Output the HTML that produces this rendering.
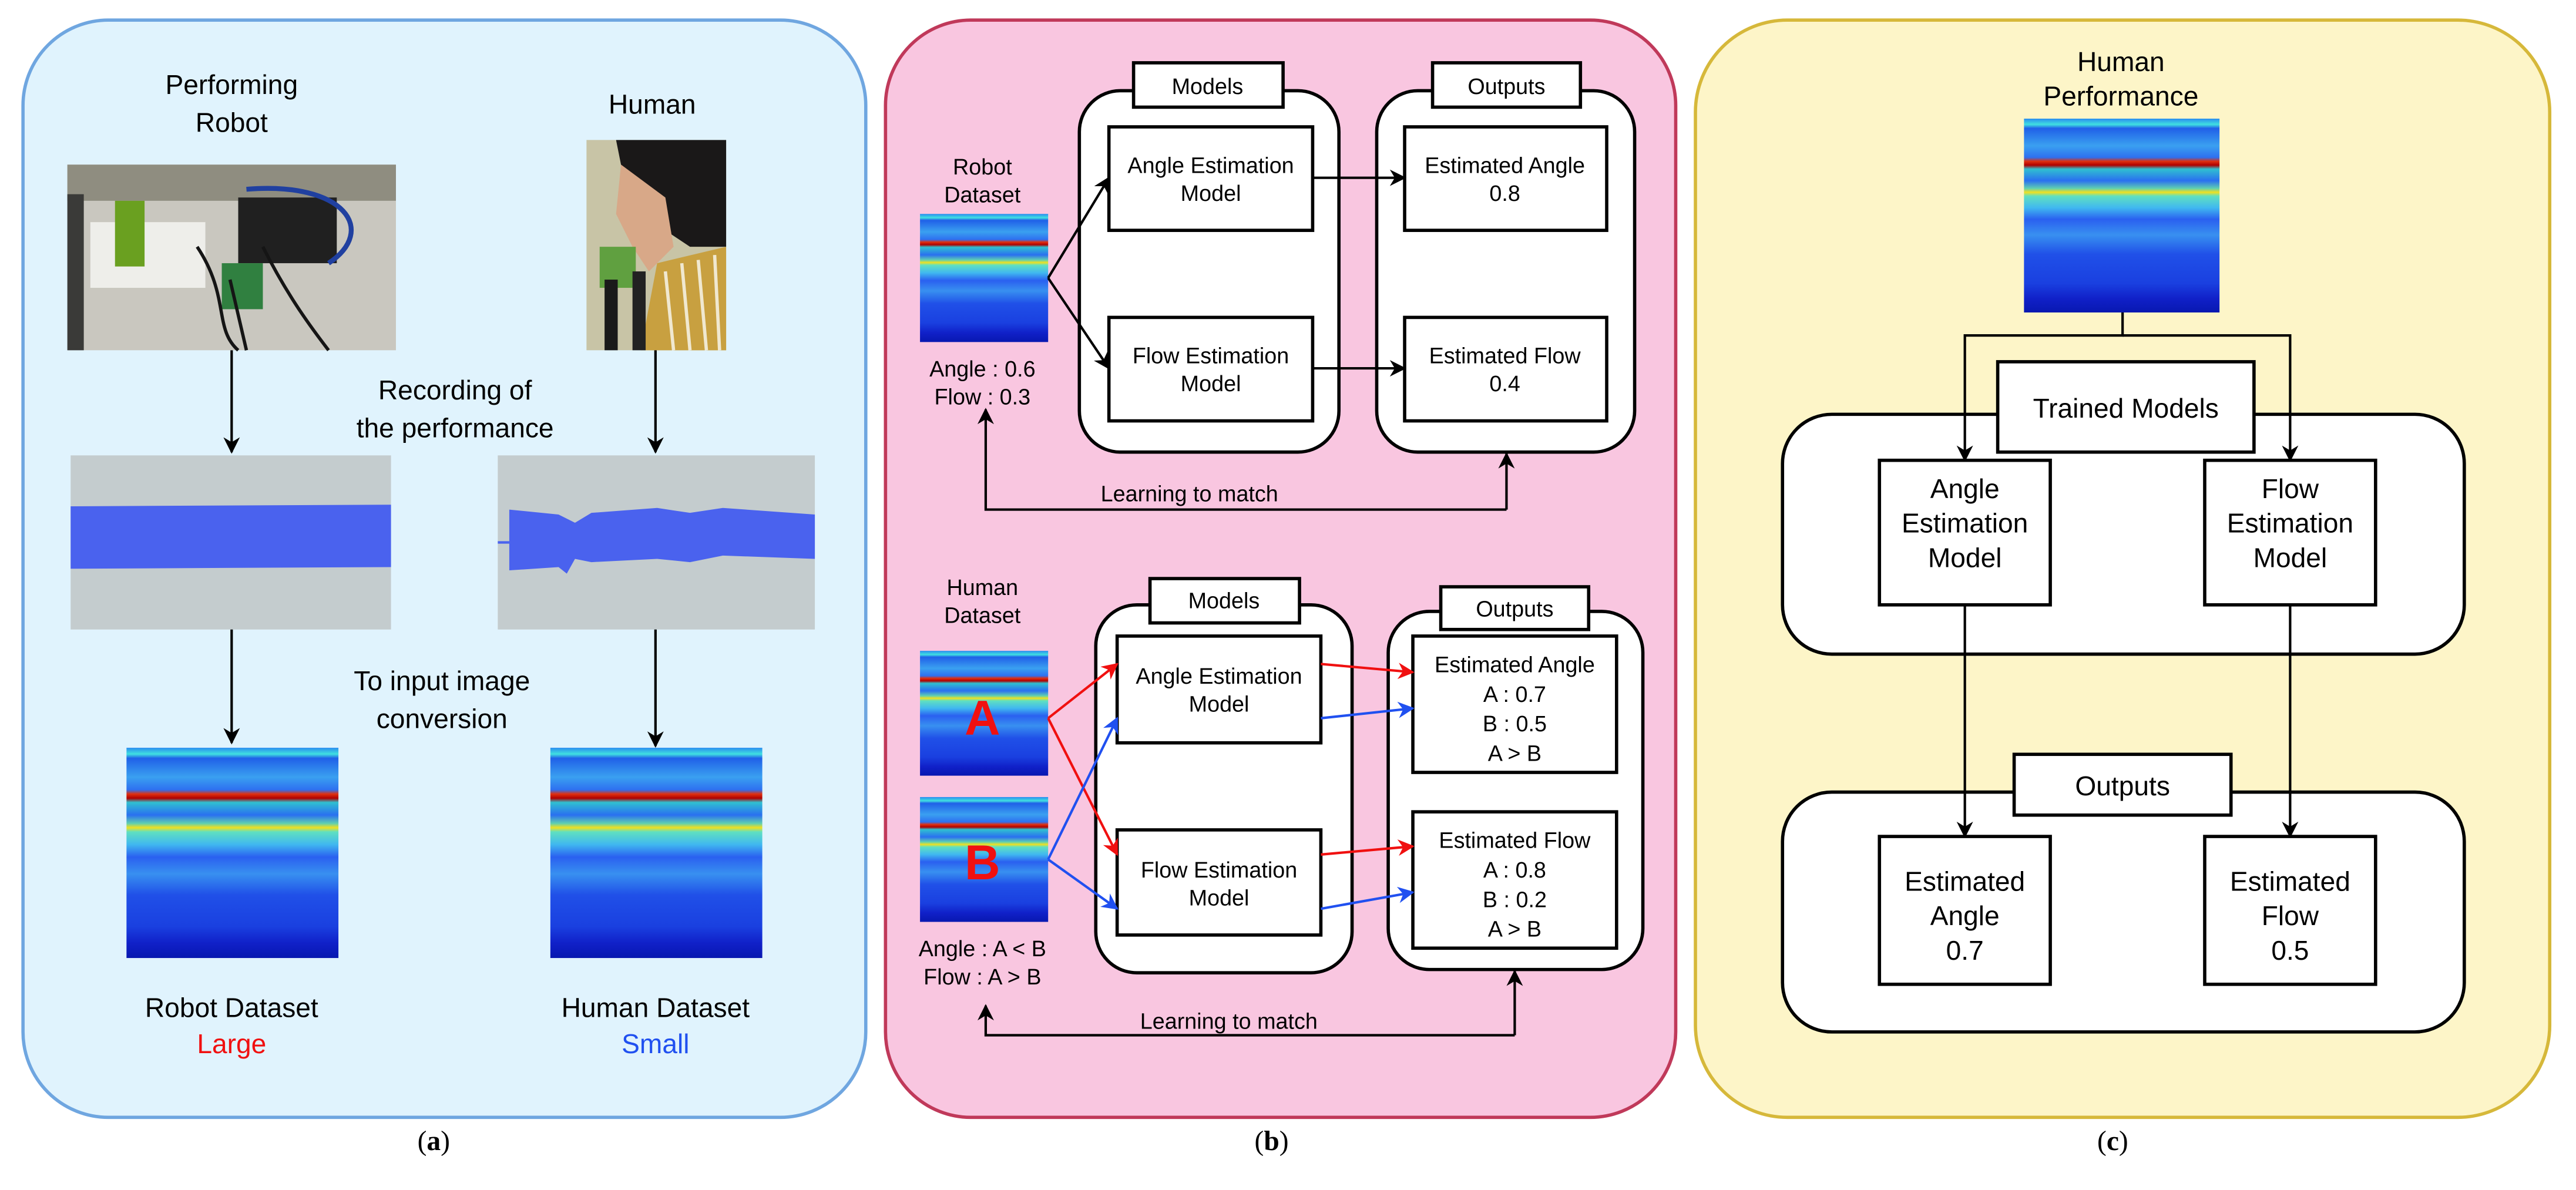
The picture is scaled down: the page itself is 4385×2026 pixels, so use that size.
<!DOCTYPE html>
<html><head><meta charset="utf-8"><style>
html,body{margin:0;padding:0;background:#fff}
svg{display:block}
text{font-family:"Liberation Sans",sans-serif;fill:#000}
.s{font-size:15px;text-anchor:middle}
.m{font-size:13.5px;text-anchor:middle}
.l{font-size:16.5px;text-anchor:middle}
.cap{font-family:"Liberation Serif",serif;font-size:17px;text-anchor:middle}
.bx{fill:#fff;stroke:#000;stroke-width:2}
.ln{fill:none;stroke:#000;stroke-width:1.5}
</style></head><body>
<svg width="4385" height="2026" viewBox="0 0 1568 724" xmlns="http://www.w3.org/2000/svg">
<defs>
<marker id="ak" markerWidth="10" markerHeight="10" refX="9" refY="5" orient="auto" markerUnits="userSpaceOnUse"><path d="M0,0 L10,5 L0,10 L3,5 Z" fill="#000"/></marker>
<marker id="ar" markerWidth="10" markerHeight="10" refX="9" refY="5" orient="auto" markerUnits="userSpaceOnUse"><path d="M0,0 L10,5 L0,10 L3,5 Z" fill="#f01010"/></marker>
<marker id="ab" markerWidth="10" markerHeight="10" refX="9" refY="5" orient="auto" markerUnits="userSpaceOnUse"><path d="M0,0 L10,5 L0,10 L3,5 Z" fill="#2050f0"/></marker>
<linearGradient id="sp" x1="0" y1="0" x2="0" y2="1">
<stop offset="0" stop-color="#2a8cf0"/><stop offset="0.03" stop-color="#40e0e0"/><stop offset="0.05" stop-color="#2060e8"/>
<stop offset="0.14" stop-color="#3aa0f0"/><stop offset="0.2" stop-color="#2e70f0"/>
<stop offset="0.22" stop-color="#e03010"/><stop offset="0.24" stop-color="#b00000"/><stop offset="0.26" stop-color="#30c0d0"/>
<stop offset="0.32" stop-color="#2a70f0"/><stop offset="0.36" stop-color="#60d0b0"/><stop offset="0.38" stop-color="#f0e020"/><stop offset="0.4" stop-color="#60e0c0"/>
<stop offset="0.46" stop-color="#40b8f0"/><stop offset="0.52" stop-color="#2a60f0"/><stop offset="0.6" stop-color="#3890f0"/>
<stop offset="0.7" stop-color="#2050e8"/><stop offset="0.85" stop-color="#1a40e0"/><stop offset="0.93" stop-color="#1020c8"/><stop offset="1" stop-color="#0818b0"/>
</linearGradient>
</defs>

<!-- panel a -->
<rect x="14" y="12" width="513" height="668" rx="52" fill="#e0f3fd" stroke="#6fa6e0" stroke-width="2"/>
<text class="l" x="141" y="57">Performing</text>
<text class="l" x="141" y="80">Robot</text>
<text class="l" x="397" y="69">Human</text>
<!-- robot photo -->
<rect x="41" y="100" width="200" height="113" fill="#c9c7bf"/>
<rect x="41" y="100" width="200" height="22" fill="#8f8d80"/>
<rect x="41" y="118" width="10" height="95" fill="#3a3a38"/>
<rect x="55" y="135" width="70" height="40" fill="#eeeeea"/>
<rect x="70" y="122" width="18" height="40" fill="#6aa020"/>
<rect x="145" y="120" width="60" height="40" fill="#202020"/>
<path d="M150 115 C210 110 230 140 200 160" stroke="#2040a0" stroke-width="3" fill="none"/>
<rect x="135" y="160" width="25" height="28" fill="#308040"/>
<path d="M160 150 C175 180 190 200 200 213 M140 170 L150 213 M120 150 C140 180 130 200 145 213" stroke="#151515" stroke-width="2" fill="none"/>
<!-- human photo -->
<rect x="357" y="85" width="85" height="128" fill="#c8c4a6"/>
<path d="M375 85 L442 85 L442 150 L420 150 L405 140 L385 120 L378 100 Z" fill="#1a1818"/>
<path d="M378 100 L405 120 L410 150 L395 165 L385 150 L375 130 Z" fill="#d8a888"/>
<path d="M400 160 L442 150 L442 213 L390 213 Z" fill="#c8a040"/>
<path d="M405 165 L410 213 M415 160 L420 213 M425 158 L430 213 M435 155 L438 213" stroke="#f0e8d0" stroke-width="2"/>
<rect x="365" y="150" width="22" height="25" fill="#60a040"/>
<rect x="368" y="170" width="8" height="43" fill="#1a1a1a"/>
<rect x="385" y="165" width="8" height="48" fill="#222"/>

<line class="ln" x1="141" y1="213" x2="141" y2="275" marker-end="url(#ak)"/>
<line class="ln" x1="399" y1="213" x2="399" y2="275" marker-end="url(#ak)"/>
<text class="l" x="277" y="243">Recording of</text>
<text class="l" x="277" y="266">the performance</text>
<rect x="43" y="277" width="195" height="106" fill="#c4ccce"/>
<path d="M43 308 L238 307 L238 345 L43 346 Z" fill="#4a62ee"/>
<rect x="303" y="277" width="193" height="106" fill="#c4ccce"/>
<line x1="303" y1="330" x2="310" y2="330" stroke="#4a62ee" stroke-width="1.5"/>
<path d="M310 310 L340 313 L350 318 L360 312 L400 309 L420 312 L440 309 L496 313 L496 340 L440 338 L420 342 L400 340 L360 342 L350 340 L345 349 L340 345 L310 347 Z" fill="#4a62ee"/>
<text class="l" x="269" y="420">To input image</text>
<text class="l" x="269" y="443">conversion</text>
<line class="ln" x1="141" y1="383" x2="141" y2="452" marker-end="url(#ak)"/>
<line class="ln" x1="399" y1="383" x2="399" y2="454" marker-end="url(#ak)"/>
<rect x="77" y="455" width="129" height="128" fill="url(#sp)"/>
<rect x="335" y="455" width="129" height="128" fill="url(#sp)"/>
<text class="l" x="141" y="619">Robot Dataset</text>
<text class="l" x="141" y="641" style="fill:#f01010">Large</text>
<text class="l" x="399" y="619">Human Dataset</text>
<text class="l" x="399" y="641" style="fill:#2050f0">Small</text>

<!-- panel b -->
<rect x="539" y="12" width="481" height="668" rx="52" fill="#f9c6e0" stroke="#c0395a" stroke-width="2"/>
<text class="m" x="598" y="106">Robot</text>
<text class="m" x="598" y="123">Dataset</text>
<rect x="560" y="130" width="78" height="78" fill="url(#sp)"/>
<text class="m" x="598" y="229">Angle : 0.6</text>
<text class="m" x="598" y="246">Flow : 0.3</text>
<rect class="bx" x="657" y="55" width="158" height="220" rx="25"/>
<rect class="bx" x="690" y="38" width="91" height="27"/>
<text class="m" x="735" y="57">Models</text>
<rect class="bx" x="838" y="55" width="157" height="220" rx="25"/>
<rect class="bx" x="872" y="38" width="90" height="27"/>
<text class="m" x="917" y="57">Outputs</text>
<rect class="bx" x="675" y="77" width="124" height="63"/>
<text class="m" x="737" y="105">Angle Estimation</text><text class="m" x="737" y="122">Model</text>
<rect class="bx" x="675" y="193" width="124" height="63"/>
<text class="m" x="737" y="221">Flow Estimation</text><text class="m" x="737" y="238">Model</text>
<rect class="bx" x="855" y="77" width="123" height="63"/>
<text class="m" x="916" y="105">Estimated Angle</text><text class="m" x="916" y="122">0.8</text>
<rect class="bx" x="855" y="193" width="123" height="63"/>
<text class="m" x="916" y="221">Estimated Flow</text><text class="m" x="916" y="238">0.4</text>
<line class="ln" x1="638" y1="169" x2="675" y2="108" marker-end="url(#ak)"/>
<line class="ln" x1="638" y1="169" x2="675" y2="224" marker-end="url(#ak)"/>
<line class="ln" x1="799" y1="108" x2="855" y2="108" marker-end="url(#ak)"/>
<line class="ln" x1="799" y1="224" x2="855" y2="224" marker-end="url(#ak)"/>
<polyline class="ln" points="917,310 600,310 600,249" marker-end="url(#ak)"/>
<line class="ln" x1="917" y1="310" x2="917" y2="276" marker-end="url(#ak)"/>
<text class="m" x="724" y="305">Learning to match</text>

<text class="m" x="598" y="362">Human</text>
<text class="m" x="598" y="379">Dataset</text>
<rect x="560" y="396" width="78" height="76" fill="url(#sp)"/>
<rect x="560" y="485" width="78" height="76" fill="url(#sp)"/>
<text x="598" y="447" style="font-size:30px;font-weight:bold;fill:#f01010;text-anchor:middle">A</text>
<text x="598" y="535" style="font-size:30px;font-weight:bold;fill:#f01010;text-anchor:middle">B</text>
<text class="m" x="598" y="582">Angle : A &lt; B</text>
<text class="m" x="598" y="599">Flow : A &gt; B</text>
<rect class="bx" x="667" y="368" width="156" height="224" rx="25"/>
<rect class="bx" x="700" y="352" width="91" height="27"/>
<text class="m" x="745" y="370">Models</text>
<rect class="bx" x="845" y="372" width="155" height="218" rx="25"/>
<rect class="bx" x="877" y="357" width="90" height="26"/>
<text class="m" x="922" y="375">Outputs</text>
<rect class="bx" x="680" y="387" width="124" height="65"/>
<text class="m" x="742" y="416">Angle Estimation</text><text class="m" x="742" y="433">Model</text>
<rect class="bx" x="680" y="505" width="124" height="64"/>
<text class="m" x="742" y="534">Flow Estimation</text><text class="m" x="742" y="551">Model</text>
<rect class="bx" x="860" y="387" width="124" height="83"/>
<text class="m" x="922" y="409">Estimated Angle</text><text class="m" x="922" y="427">A : 0.7</text><text class="m" x="922" y="445">B : 0.5</text><text class="m" x="922" y="463">A &gt; B</text>
<rect class="bx" x="860" y="494" width="124" height="83"/>
<text class="m" x="922" y="516">Estimated Flow</text><text class="m" x="922" y="534">A : 0.8</text><text class="m" x="922" y="552">B : 0.2</text><text class="m" x="922" y="570">A &gt; B</text>
<g stroke-width="1.5" fill="none">
<line x1="638" y1="437" x2="680" y2="404" stroke="#f01010" marker-end="url(#ar)"/>
<line x1="638" y1="437" x2="680" y2="520" stroke="#f01010" marker-end="url(#ar)"/>
<line x1="638" y1="523" x2="680" y2="437" stroke="#2050f0" marker-end="url(#ab)"/>
<line x1="638" y1="523" x2="680" y2="553" stroke="#2050f0" marker-end="url(#ab)"/>
<line x1="804" y1="404" x2="860" y2="409" stroke="#f01010" marker-end="url(#ar)"/>
<line x1="804" y1="437" x2="860" y2="431" stroke="#2050f0" marker-end="url(#ab)"/>
<line x1="804" y1="520" x2="860" y2="515" stroke="#f01010" marker-end="url(#ar)"/>
<line x1="804" y1="553" x2="860" y2="543" stroke="#2050f0" marker-end="url(#ab)"/>
</g>
<polyline class="ln" points="922,630 600,630 600,612" marker-end="url(#ak)"/>
<line class="ln" x1="922" y1="630" x2="922" y2="591" marker-end="url(#ak)"/>
<text class="m" x="748" y="626">Learning to match</text>

<!-- panel c -->
<rect x="1032" y="12" width="520" height="668" rx="56" fill="#fdf5c8" stroke="#d6b83a" stroke-width="2"/>
<text class="l" x="1291" y="43">Human</text>
<text class="l" x="1291" y="64">Performance</text>
<rect x="1232" y="72" width="119" height="118" fill="url(#sp)"/>
<rect class="bx" x="1085" y="252" width="415" height="146" rx="30"/>
<rect class="bx" x="1085" y="482" width="415" height="146" rx="30"/>
<polyline class="ln" points="1292,190 1292,204 1196,204 1196,280" marker-end="url(#ak)"/>
<polyline class="ln" points="1292,204 1394,204 1394,280" marker-end="url(#ak)"/>
<rect class="bx" x="1216" y="220" width="156" height="55"/>
<text class="l" x="1294" y="254">Trained Models</text>
<rect class="bx" x="1144" y="280" width="104" height="88"/>
<text class="l" x="1196" y="303">Angle</text><text class="l" x="1196" y="324">Estimation</text><text class="l" x="1196" y="345">Model</text>
<rect class="bx" x="1342" y="280" width="104" height="88"/>
<text class="l" x="1394" y="303">Flow</text><text class="l" x="1394" y="324">Estimation</text><text class="l" x="1394" y="345">Model</text>
<line class="ln" x1="1196" y1="368" x2="1196" y2="509" marker-end="url(#ak)"/>
<line class="ln" x1="1394" y1="368" x2="1394" y2="509" marker-end="url(#ak)"/>
<rect class="bx" x="1226" y="459" width="132" height="37"/>
<text class="l" x="1292" y="484">Outputs</text>
<rect class="bx" x="1144" y="509" width="104" height="90"/>
<text class="l" x="1196" y="542">Estimated</text><text class="l" x="1196" y="563">Angle</text><text class="l" x="1196" y="584">0.7</text>
<rect class="bx" x="1342" y="509" width="104" height="90"/>
<text class="l" x="1394" y="542">Estimated</text><text class="l" x="1394" y="563">Flow</text><text class="l" x="1394" y="584">0.5</text>

<text class="cap" x="264" y="700">(<tspan font-weight="bold">a</tspan>)</text>
<text class="cap" x="774" y="700">(<tspan font-weight="bold">b</tspan>)</text>
<text class="cap" x="1286" y="700">(<tspan font-weight="bold">c</tspan>)</text>
</svg>
</body></html>
